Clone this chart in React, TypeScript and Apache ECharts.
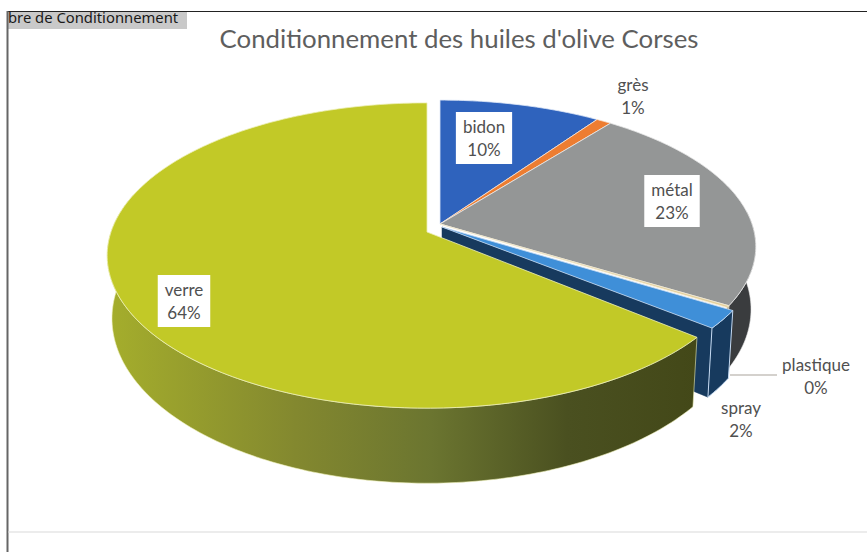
import React, { useEffect, useRef } from "react";
import * as echarts from "echarts";

const categories = ["bidon", "grès", "métal", "plastique", "spray", "verre"];
const values = [9.6, 0.9, 23.3, 0.2, 2.0, 64.0];
const titleText = "Conditionnement des huiles d'olive Corses";
const tabText = "bre de Conditionnement";

const topColors = ["#2f63bd", "#ed7d31", "#949696", "#e3cf9a", "#3f8fd8", "#c2c927"];
const wallColors = ["#1c3c72", "#8f4a1c", "#3a3c3e", "#8a7a55", "#173a5e", "#6f7a2a"];
const edgeColors = ["#dfe8f7", "#f7e3d2", "#e8e8e8", "#f3ead0", "#c5daf2", "#eef0b8"];
const apexes = [
  [440, 224], [440, 224], [440, 224], [440, 224], [442, 227], [427, 232],
];
const radiiX = [312, 312, 312, 312, 316, 316];
const radiiY = [143, 143, 143, 143, 143, 149];
const labelBoxes = [
  { x: 484, y: 138, box: true },
  { x: 633, y: 96, box: false },
  { x: 672, y: 201, box: true },
  { x: 816, y: 376, box: false },
  { x: 741, y: 419, box: false },
  { x: 184, y: 301, box: true },
];
const PERSPECTIVE = 0.154;
const BOTTOM_SX = 0.985;
const BOTTOM_SY = 1.08;
const BOTTOM_DY = 61;
const TOTAL = values.reduce((a, b) => a + b, 0);

function project(i: number, deg: number, bottom: boolean) {
  const t = (deg * Math.PI) / 180;
  const k = 1 / (1 + PERSPECTIVE * Math.cos(t));
  const x = radiiX[i] * Math.sin(t) * k;
  const y = -radiiY[i] * Math.cos(t) * k;
  const [cx, cy] = apexes[i];
  return bottom
    ? [cx + BOTTOM_SX * x, cy + BOTTOM_DY + BOTTOM_SY * y]
    : [cx + x, cy + y];
}

function arc(i: number, a0: number, a1: number, bottom: boolean) {
  const pts: number[][] = [];
  const n = Math.max(2, Math.ceil(Math.abs(a1 - a0)));
  for (let j = 0; j <= n; j++) pts.push(project(i, a0 + ((a1 - a0) * j) / n, bottom));
  return pts;
}

function renderSlice(params: any, api: any) {
  const i = params.dataIndex;
  const value = api.value(0);
  const before = values.slice(0, i).reduce((a, b) => a + b, 0);
  const a0 = (before / TOTAL) * 360;
  const a1 = a0 + (value / TOTAL) * 360;
  const [cx, cy] = apexes[i];
  const children: any[] = [];
  const isVerre = i === 5;
  const wallFill = isVerre
    ? new echarts.graphic.LinearGradient(0, 0, 1, 0, [
        { offset: 0, color: "#a5ae2c" },
        { offset: 0.32, color: "#83882f" },
        { offset: 0.55, color: "#6b7530" },
        { offset: 0.78, color: "#4a5020" },
        { offset: 1, color: "#434818" },
      ])
    : wallColors[i];

  // inner cut wall facing the viewer (only the spray slice shows it)
  if (i === 4) {
    const rimT = project(i, a1, false);
    const rimB = project(i, a1, true);
    children.push({
      type: "polygon",
      shape: { points: [[cx, cy], rimT, rimB, [cx, cy + BOTTOM_DY]] },
      style: { fill: wallColors[i], stroke: wallColors[i], lineWidth: 0.5 },
    });
  }
  // outer wall (visible front part of the rim)
  const w0 = Math.max(a0, 85);
  const w1 = Math.min(a1, 285);
  if (w1 > w0) {
    children.push({
      type: "polygon",
      shape: { points: [...arc(i, w0, w1, false), ...arc(i, w1, w0, true)] },
      style: { fill: wallFill, stroke: edgeColors[i], lineWidth: i === 4 ? 1 : 0.6 },
    });
  }
  // top face
  children.push({
    type: "polygon",
    shape: { points: [[cx, cy], ...arc(i, a0, a1, false)] },
    style: { fill: topColors[i], stroke: edgeColors[i], lineWidth: 0.8 },
  });
  // leader line for the plastique label
  if (i === 3) {
    children.push({
      type: "line",
      shape: { x1: 730, y1: 375, x2: 777, y2: 375 },
      style: { stroke: "#a9a39c", lineWidth: 1.2 },
    });
  }
  const lb = labelBoxes[i];
  children.push({
    type: "text",
    style: {
      text: `${categories[i]}\n${Math.round((value / TOTAL) * 100)}%`,
      x: lb.x,
      y: lb.y,
      align: "center",
      verticalAlign: "middle",
      fill: "#505050",
      font: "17px Lato",
      lineHeight: 23,
      backgroundColor: lb.box ? "#ffffff" : "transparent",
      padding: lb.box ? [3, 7] : 0,
    },
  });
  return { type: "group", children };
}

export default function App() {
  const ref = useRef<HTMLDivElement>(null);
  useEffect(() => {
    const chart = echarts.init(ref.current!, null, { renderer: "svg" });
    chart.setOption({
      animation: false,
      backgroundColor: "#ffffff",
      title: {
        text: titleText,
        left: 454,
        top: 20,
        textAlign: "center",
        textStyle: { fontFamily: "Lato", fontSize: 25.8, fontWeight: "normal", color: "#5e5e5e" },
      },
      series: [
        {
          type: "custom",
          coordinateSystem: "none",
          silent: true,
          renderItem: renderSlice,
          data: values.map((v, i) => ({ name: categories[i], value: [v] })),
        },
      ],
      graphic: [
        { type: "rect", z: 10, shape: { x: 8, y: 12, width: 179, height: 17 }, style: { fill: "#c9c9c9" } },
        {
          type: "text", z: 11, x: 8, y: 17,
          style: { text: tabText, fill: "#1a1a1a", font: "14.8px 'Noto Sans'", verticalAlign: "middle" },
        },
        { type: "rect", z: 12, shape: { x: 0, y: 0, width: 867, height: 11 }, style: { fill: "#ffffff" } },
        { type: "line", z: 13, shape: { x1: 7, y1: 11.5, x2: 867, y2: 11.5 }, style: { stroke: "#222222", lineWidth: 1 } },
        { type: "line", z: 13, shape: { x1: 7.5, y1: 11, x2: 7.5, y2: 552 }, style: { stroke: "#666666", lineWidth: 2 } },
        { type: "line", z: 13, shape: { x1: 8, y1: 532, x2: 867, y2: 532 }, style: { stroke: "#d9d9d9", lineWidth: 1 } },
      ],
    });
    return () => chart.dispose();
  }, []);
  return <div ref={ref} style={{ position: "absolute", left: 0, top: 0, width: 867, height: 552 }} />;
}
